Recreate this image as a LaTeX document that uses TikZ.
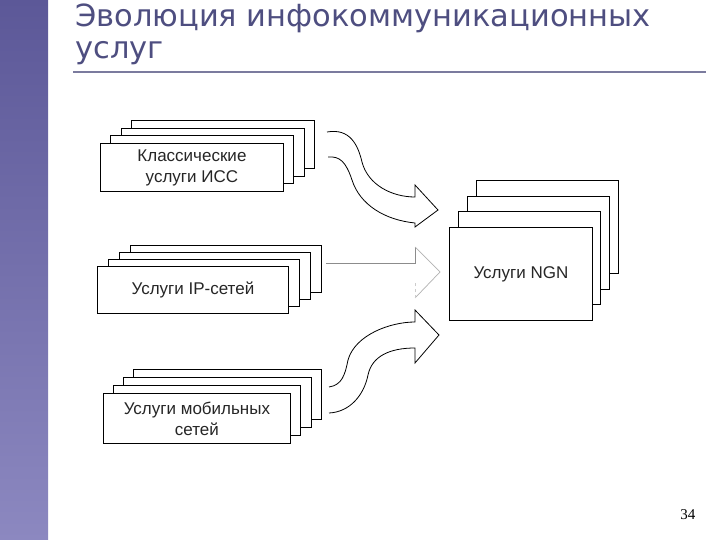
\documentclass[tikz,border=0pt]{standalone}
\usepackage{fontspec}
\setmainfont{Liberation Sans}
\newfontfamily\titlefont{DejaVu Sans}
\newfontfamily\numfont{Liberation Serif}
\definecolor{barTop}{HTML}{5C5898}
\definecolor{barBot}{HTML}{8C88C0}
\definecolor{titleC}{HTML}{4E4E80}
\definecolor{ruleC}{HTML}{7B7B9E}
\begin{document}
\begin{tikzpicture}[x=1pt,y=-1pt,
  card/.style={draw=black,fill=white,line width=0.9pt},
  lbl/.style={font=\fontsize{17}{21}\selectfont,align=center,text=black!85},
  bigarrow/.style={draw=black,fill=white,line width=0.8pt}]
\useasboundingbox (0,0) rectangle (720,540);
\fill[white] (0,0) rectangle (720,540);
\shade[top color=barTop,bottom color=barBot] (0,0) rectangle (48,540);
\node[anchor=west,text=titleC,font=\titlefont\fontsize{30.5}{36}\selectfont,inner sep=0] (t1) at (75,18) {Эволюция инфокоммуникационных};
\node[anchor=west,text=titleC,font=\titlefont\fontsize{30.5}{36}\selectfont,inner sep=0] (t2) at (75,53) {услуг};
\draw[ruleC,line width=1.6pt] (73,72) -- (706,72);
% stack 1
\foreach \i in {3,2,1}{\draw[card] (100+10.5*\i,143-7.5*\i) rectangle (283+10.5*\i,191-7.5*\i);}
\node[card,minimum width=183pt,minimum height=48pt,anchor=north west] (s1) at (100,143) {};
\node[lbl] at (s1.center) {Классические\\услуги ИСС};
% stack 2
\foreach \i in {3,2,1}{\draw[card] (97+11.3*\i,266-7*\i) rectangle (288+11*\i,313-7*\i);}
\node[card,minimum width=191pt,minimum height=47pt,anchor=north west] (s2) at (97,266) {};
\node[lbl] at (s2.center) {Услуги IP-сетей};
% stack 3
\foreach \i in {3,2,1}{\draw[card] (103+10*\i,393-8*\i) rectangle (290+10.5*\i,443-8*\i);}
\node[card,minimum width=187pt,minimum height=50pt,anchor=north west] (s3) at (103,393) {};
\node[lbl] at (s3.center) {Услуги мобильных\\сетей};
% NGN
\foreach \i in {3,2,1}{\draw[card] (449+9*\i,227-15.5*\i) rectangle (592+8.7*\i,320-15.5*\i);}
\node[card,minimum width=143pt,minimum height=93pt,anchor=north west] (n) at (449,227) {};
\node[lbl] at (n.center) {Услуги NGN};
% top curved arrow
\draw[bigarrow] (327,132) .. controls (350,128) and (358,145) .. (362,162)
  .. controls (368,185) and (392,197) .. (415,197) -- (415,185) -- (438,210) -- (415,227) -- (415,223)
  .. controls (385,220) and (360,205) .. (352,180) .. controls (346,162) and (340,156) .. (328,157);
% bottom curved arrow
\draw[bigarrow] (329,387) .. controls (342,385) and (345,375) .. (348,360)
  .. controls (355,335) and (390,322) .. (415,322) -- (415,310) -- (439,335) -- (415,363) -- (415,348)
  .. controls (390,348) and (372,356) .. (368,375) .. controls (364,395) and (350,412) .. (329,413);
% middle arrow
\draw[black!45,line width=0.7pt] (326,263) -- (415,263) -- (415,247);
\draw[black!30,line width=0.7pt] (415,247) -- (440,272) -- (415,298);
\draw[black!20,line width=0.6pt,dashed] (415,298) -- (415,282);
\node[anchor=east,font=\numfont\fontsize{15}{18}\selectfont] (pg) at (699,515) {34};
\end{tikzpicture}
\end{document}
